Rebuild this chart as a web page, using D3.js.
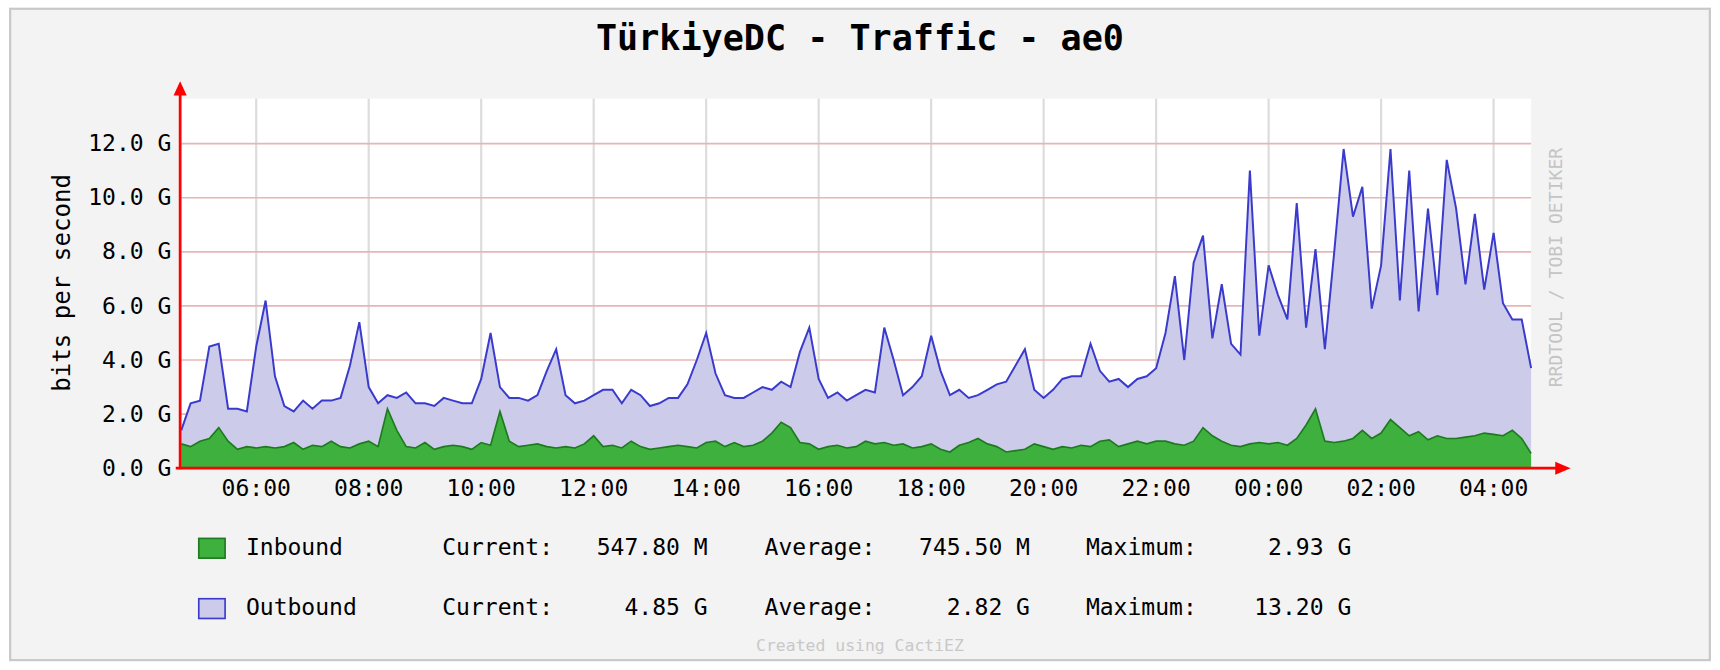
<!DOCTYPE html>
<html>
<head>
<meta charset="utf-8">
<script src="https://cdn.jsdelivr.net/npm/d3@7"></script>
<style>
  body { margin: 0; background: #fff; }
  text { font-family: "DejaVu Sans Mono", monospace; }
</style>
</head>
<body>
<svg id="chart" width="1720" height="670" viewBox="0 0 1568 611"></svg>
<script>
// samples every 10 minutes starting 04:40
var startTime = new Date(2024, 0, 1, 4, 40);
var stepMinutes = 10;

var outbound = [1.4,2.4,2.5,4.5,4.6,2.2,2.2,2.1,4.5,6.2,3.4,2.3,2.1,2.5,2.2,2.5,2.5,2.6,3.8,5.4,
  3.0,2.4,2.7,2.6,2.8,2.4,2.4,2.3,2.6,2.5,2.4,2.4,3.3,5.0,3.0,2.6,2.6,2.5,2.7,3.6,
  4.4,2.7,2.4,2.5,2.7,2.9,2.9,2.4,2.9,2.7,2.3,2.4,2.6,2.6,3.1,4.0,5.0,3.5,2.7,2.6,
  2.6,2.8,3.0,2.9,3.2,3.0,4.3,5.2,3.3,2.6,2.8,2.5,2.7,2.9,2.8,5.2,4.0,2.7,3.0,3.4,
  4.9,3.6,2.7,2.9,2.6,2.7,2.9,3.1,3.2,3.8,4.4,2.9,2.6,2.9,3.3,3.4,3.4,4.6,3.6,3.2,
  3.3,3.0,3.3,3.4,3.7,5.0,7.1,4.0,7.6,8.6,4.8,6.8,4.6,4.2,11.0,4.9,7.5,6.4,5.5,9.8,
  5.2,8.1,4.4,8.0,11.8,9.3,10.4,5.9,7.5,11.8,6.2,11.0,5.8,9.6,6.4,11.4,9.6,6.8,9.4,6.6,
  8.7,6.1,5.5,5.5,3.7];

var inbound = [0.9,0.8,1.0,1.1,1.5,1.0,0.7,0.8,0.75,0.8,0.75,0.8,0.95,0.7,0.85,0.8,1.0,0.8,0.75,0.9,
  1.0,0.8,2.2,1.4,0.8,0.75,0.95,0.7,0.8,0.85,0.8,0.7,0.95,0.85,2.1,1.0,0.8,0.85,0.9,0.8,
  0.75,0.8,0.75,0.9,1.2,0.8,0.85,0.75,1.0,0.8,0.7,0.75,0.8,0.85,0.8,0.75,0.95,1.0,0.8,0.95,
  0.8,0.85,1.0,1.3,1.7,1.5,0.95,0.9,0.7,0.8,0.85,0.75,0.8,1.0,0.9,0.95,0.85,0.9,0.75,0.8,
  0.9,0.7,0.6,0.85,0.95,1.1,0.9,0.8,0.6,0.65,0.7,0.9,0.8,0.7,0.8,0.75,0.85,0.8,1.0,1.05,
  0.8,0.9,1.0,0.9,1.0,1.0,0.9,0.85,1.0,1.5,1.2,1.0,0.85,0.8,0.9,0.95,0.9,0.95,0.85,1.1,
  1.6,2.2,1.0,0.95,1.0,1.1,1.4,1.1,1.3,1.8,1.5,1.2,1.35,1.05,1.2,1.1,1.1,1.15,1.2,1.3,
  1.25,1.2,1.4,1.1,0.55];

var yTicks = [0, 2, 4, 6, 8, 10, 12];
var legendNames = ["Inbound", "Outbound"];
var legendCurrent = ["547.80 M", "4.85 G"];
var legendAverage = ["745.50 M", "2.82 G"];
var legendMaximum = ["2.93 G", "13.20 G"];
var legendFill = ["#3db03d", "#ccccea"];
var legendStroke = ["#1e7a1e", "#3a3acc"];

var svg = d3.select('#chart');
var plot = {left: 165, right: 1396, top: 90, bottom: 427};

function timeAt(i) { return d3.timeMinute.offset(startTime, i * stepMinutes); }

var x = d3.scaleTime()
    .domain([startTime, timeAt(outbound.length - 1)])
    .range([plot.left, plot.right]);
var y = d3.scaleLinear().domain([0, 13.66]).range([plot.bottom, plot.top]);

// frame
svg.append('rect').attr('x', 0).attr('y', 0).attr('width', 1568).attr('height', 611).attr('fill', '#fff');
svg.append('rect').attr('x', 9).attr('y', 8).attr('width', 1550).attr('height', 594)
    .attr('fill', '#f3f3f3').attr('stroke', '#c8c8c8').attr('stroke-width', 2);
svg.append('rect').attr('x', plot.left).attr('y', plot.top)
    .attr('width', plot.right - plot.left).attr('height', plot.bottom - plot.top).attr('fill', '#fff');

svg.append('text').attr('x', 784).attr('y', 46).attr('text-anchor', 'middle')
    .attr('font-size', 32).attr('font-weight', 'bold').text('TürkiyeDC - Traffic - ae0');

// grid
var xTicks = x.ticks(d3.timeHour.every(2));
svg.append('g').selectAll('line').data(xTicks).join('line')
    .attr('x1', d => x(d)).attr('x2', d => x(d))
    .attr('y1', plot.top).attr('y2', plot.bottom)
    .attr('stroke', '#dcdcdc').attr('stroke-width', 2);
svg.append('g').selectAll('line').data(yTicks.slice(1)).join('line')
    .attr('x1', plot.left).attr('x2', plot.right)
    .attr('y1', d => y(d)).attr('y2', d => y(d))
    .attr('stroke', '#e8b4b4').attr('stroke-width', 1.5);

// areas
var area = d3.area().x((d, i) => x(timeAt(i))).y0(plot.bottom).y1(d => y(d));
var line = d3.line().x((d, i) => x(timeAt(i))).y(d => y(d));

svg.append('path').datum(outbound).attr('d', area).attr('fill', '#ccccea');
svg.append('path').datum(outbound).attr('d', line).attr('fill', 'none')
    .attr('stroke', '#3a3acc').attr('stroke-width', 1.8);
svg.append('path').datum(inbound).attr('d', area).attr('fill', '#3db03d');
svg.append('path').datum(inbound).attr('d', line).attr('fill', 'none')
    .attr('stroke', '#1e7a1e').attr('stroke-width', 1.5);

// axis labels
svg.append('g').selectAll('text').data(yTicks).join('text')
    .attr('x', 156).attr('y', d => y(d) + 7).attr('text-anchor', 'end')
    .attr('font-size', 21).text(d => d.toFixed(1) + ' G');
svg.append('g').selectAll('text').data(xTicks).join('text')
    .attr('x', d => x(d)).attr('y', 452).attr('text-anchor', 'middle')
    .attr('font-size', 21).text(d3.timeFormat('%H:%M'));
svg.append('text').attr('transform', 'translate(64,258) rotate(-90)')
    .attr('text-anchor', 'middle').attr('font-size', 22).text('bits per second');
svg.append('text').attr('transform', 'translate(1424,244) rotate(-90)')
    .attr('text-anchor', 'middle').attr('font-size', 16.5).attr('fill', '#c4c4c4')
    .text('RRDTOOL / TOBI OETIKER');

// red axes with arrows
svg.append('line').attr('x1', 164).attr('x2', 164).attr('y1', 428).attr('y2', 82)
    .attr('stroke', 'red').attr('stroke-width', 2.5);
svg.append('path').attr('d', 'M158,87 L164,74 L170,87 Z').attr('fill', 'red');
svg.append('line').attr('x1', 160).attr('x2', 1422).attr('y1', 427).attr('y2', 427)
    .attr('stroke', 'red').attr('stroke-width', 2.5);
svg.append('path').attr('d', 'M1418,421 L1432,427 L1418,433 Z').attr('fill', 'red');

// legend
var rows = svg.append('g').selectAll('g').data(legendNames).join('g')
    .attr('transform', (d, i) => 'translate(0,' + (500 + i * 55) + ')');
rows.append('rect').attr('x', 181).attr('y', -9).attr('width', 24).attr('height', 18)
    .attr('fill', (d, i) => legendFill[i]).attr('stroke', (d, i) => legendStroke[i]).attr('stroke-width', 1.5);
function legText(xp, anchor, fn) {
  rows.append('text').attr('x', xp).attr('y', 6).attr('text-anchor', anchor)
      .attr('font-size', 21).text(fn);
}
legText(224, 'start', d => d);
legText(403, 'start', () => 'Current:');
legText(645, 'end', (d, i) => legendCurrent[i]);
legText(697, 'start', () => 'Average:');
legText(939, 'end', (d, i) => legendAverage[i]);
legText(990, 'start', () => 'Maximum:');
legText(1232, 'end', (d, i) => legendMaximum[i]);

svg.append('text').attr('x', 784).attr('y', 594).attr('text-anchor', 'middle')
    .attr('font-size', 15).attr('fill', '#c8c8c8').text('Created using CactiEZ');
</script>
</body>
</html>
